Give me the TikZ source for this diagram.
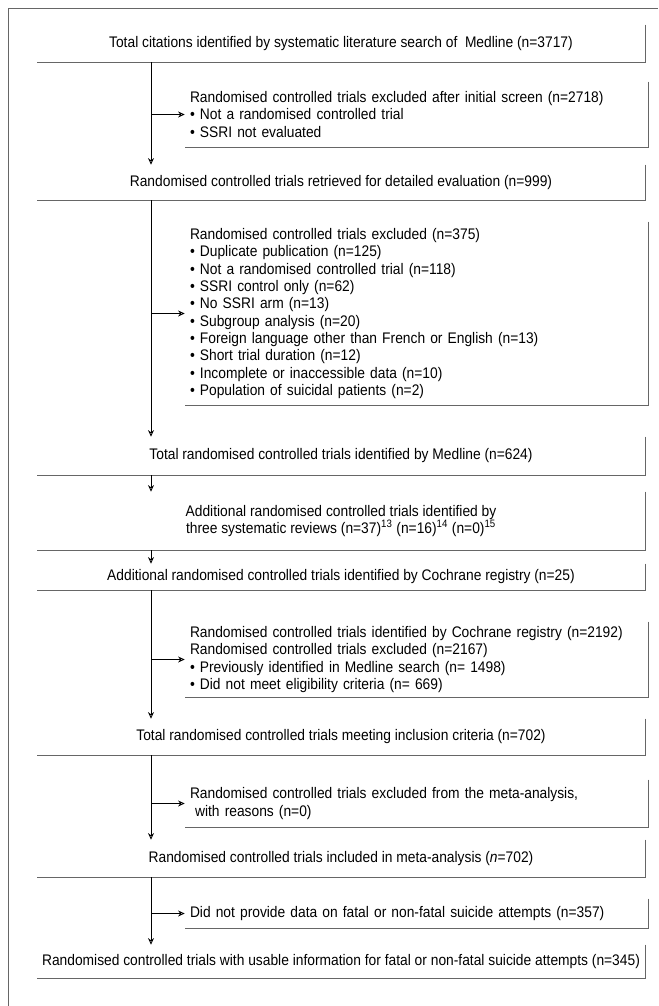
\documentclass[tikz,border=0pt]{standalone}
\usepackage{fontspec}
\setmainfont[FakeStretch=0.9]{Liberation Sans}
\usetikzlibrary{arrows.meta}

\begin{document}
\begin{tikzpicture}[
        x=0.75pt, y=-0.75pt,
        every node/.style={font=\fontsize{11.5}{13}\selectfont, inner sep=0pt},
        mainbox/.style={minimum width=456pt, align=center},
        sidebox/.style={text width=339.75pt, inner xsep=3.75pt, align=left},
        boxline/.style={draw=black!60, line width=0.5pt},
        flow/.style={draw, line width=0.6pt, -{Stealth[open, length=5pt, width=4.5pt]}},
    ]
    \useasboundingbox (0,0) rectangle (658,1006);
    \draw[boxline] (8,1006) -- (8,8) -- (658,8);
    \coordinate (trunk) at (151,0);

    % main column
    \node[mainbox, minimum height=27.75pt] (citations) at (341,43.5)
        {Total citations identified by systematic literature search of \ Medline (n=3717)};
    \node[mainbox, minimum height=26.25pt] (retrieved) at (341,182.5)
        {Randomised controlled trials retrieved for detailed evaluation (n=999)};
    \node[mainbox, minimum height=28.5pt] (medline) at (341,456)
        {Total randomised controlled trials identified by Medline (n=624)};
    \node[mainbox, minimum height=43.5pt] (reviews) at (341,521)
        {Additional randomised controlled trials identified by\\
         three systematic reviews (n=37)\textsuperscript{13} (n=16)\textsuperscript{14} (n=0)\textsuperscript{15}};
    \node[mainbox, minimum height=19.5pt] (cochrane) at (341,577)
        {Additional randomised controlled trials identified by Cochrane registry (n=25)};
    \node[mainbox, minimum height=27pt] (inclusion) at (341,737)
        {Total randomised controlled trials meeting inclusion criteria (n=702)};
    \node[mainbox, minimum height=27.75pt] (included) at (341,858.5)
        {Randomised controlled trials included in meta-analysis (\textit{n}=702)};
    \node[mainbox, minimum height=24.75pt] (usable) at (341,961.5)
        {Randomised controlled trials with usable information for fatal or non-fatal suicide attempts (n=345)};

    % exclusions
    \node[sidebox, minimum height=48.75pt] (screen) at (416.5,114.5)
        {Randomised controlled trials excluded after initial screen (n=2718)\\
         • Not a randomised controlled trial\\
         • SSRI not evaluated};
    \node[sidebox, minimum height=137.25pt] (excluded) at (416.5,313.5)
        {Randomised controlled trials excluded (n=375)\\
         • Duplicate publication (n=125)\\
         • Not a randomised controlled trial (n=118)\\
         • SSRI control only (n=62)\\
         • No SSRI arm (n=13)\\
         • Subgroup analysis (n=20)\\
         • Foreign language other than French or English (n=13)\\
         • Short trial duration (n=12)\\
         • Incomplete or inaccessible data (n=10)\\
         • Population of suicidal patients (n=2)};
    \node[sidebox, minimum height=56.25pt] (registry) at (416.5,659.5)
        {Randomised controlled trials identified by Cochrane registry (n=2192)\\
         Randomised controlled trials excluded (n=2167)\\
         • Previously identified in Medline search (n= 1498)\\
         • Did not meet eligibility criteria (n= 669)};
    \node[sidebox, minimum height=35.25pt] (meta) at (416.5,803.5)
        {Randomised controlled trials excluded from the meta-analysis,\\
         \ with reasons (n=0)};
    \node[sidebox, minimum height=21.75pt] (nodata) at (416.5,913.5)
        {Did not provide data on fatal or non-fatal suicide attempts (n=357)};

    \foreach \b in {citations, retrieved, medline, reviews, cochrane, inclusion, included, usable,
                    screen, excluded, registry, meta, nodata}
        \draw[boxline] (\b.north east) -- (\b.south east) -- (\b.south west);

    \draw[flow] (citations.south -| trunk) -- (retrieved.north -| trunk);
    \draw[flow] (retrieved.south -| trunk) -- (medline.north -| trunk);
    \draw[flow] (medline.south -| trunk) -- (reviews.north -| trunk);
    \draw[flow] (reviews.south -| trunk) -- (cochrane.north -| trunk);
    \draw[flow] (cochrane.south -| trunk) -- (inclusion.north -| trunk);
    \draw[flow] (inclusion.south -| trunk) -- (included.north -| trunk);
    \draw[flow] (included.south -| trunk) -- (usable.north -| trunk);

    \draw[flow] (screen.west -| trunk) -- (screen.west);
    \draw[flow] (excluded.west -| trunk) -- (excluded.west);
    \draw[flow] (registry.west -| trunk) -- (registry.west);
    \draw[flow] (meta.west -| trunk) -- (meta.west);
    \draw[flow] (nodata.west -| trunk) -- (nodata.west);
\end{tikzpicture}
\end{document}
